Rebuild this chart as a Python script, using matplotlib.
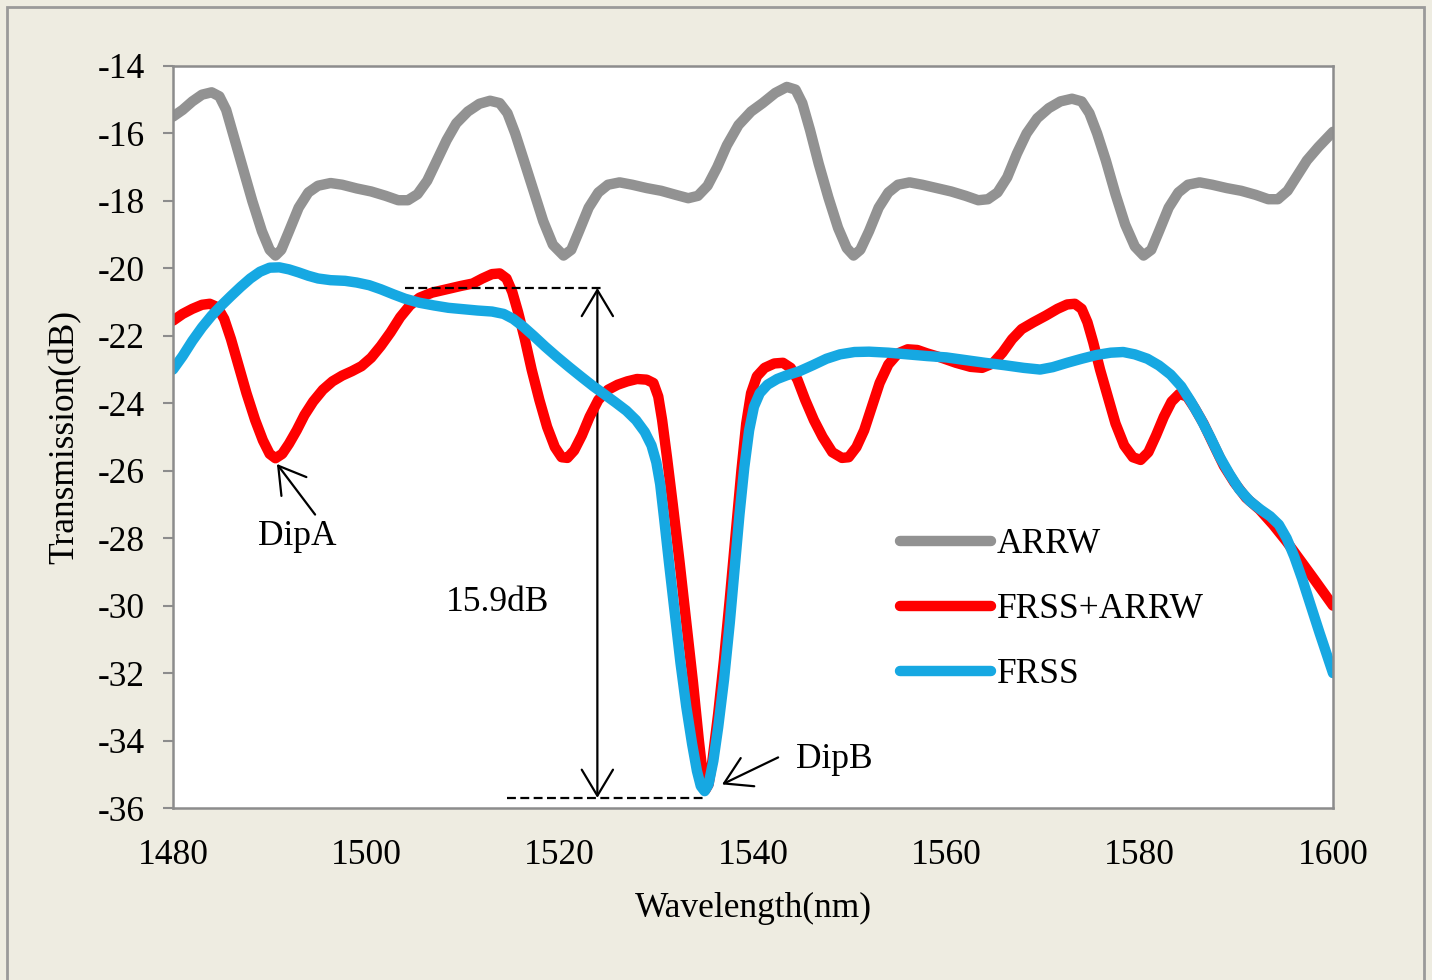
import matplotlib
matplotlib.use("Agg")
import matplotlib.pyplot as plt
from matplotlib.patches import Rectangle, FancyArrowPatch
import numpy as np

# wavelength (nm) / transmission (dB)
arrw_wl = [1480, 1481, 1482, 1483, 1484, 1484.8, 1485.5, 1486.3, 1487.2, 1488.2,
           1489.2, 1490, 1490.6, 1491.2, 1492, 1493, 1494, 1495, 1496.3, 1497.5,
           1499, 1500.5, 1502, 1503.3, 1504.3, 1505.3, 1506.3, 1507.3, 1508.3, 1509.3,
           1510.5, 1511.7, 1512.8, 1513.8, 1514.6, 1515.4, 1516.3, 1517.3, 1518.3, 1519.3,
           1520.4, 1521.2, 1522, 1523, 1524, 1525, 1526.2, 1527.5, 1529, 1530.5,
           1532, 1533.3, 1534.3, 1535.3, 1536.3, 1537.3, 1538.5, 1539.8, 1541, 1542.3,
           1543.5, 1544.4, 1545.1, 1545.9, 1546.8, 1547.8, 1548.8, 1549.7, 1550.4, 1551.1,
           1552, 1553, 1554, 1555, 1556.2, 1557.5, 1559, 1560.5, 1562, 1563.3,
           1564.3, 1565.3, 1566.3, 1567.3, 1568.3, 1569.4, 1570.6, 1571.8, 1573, 1574,
           1574.8, 1575.6, 1576.5, 1577.5, 1578.5, 1579.5, 1580.4, 1581.2, 1582, 1583,
           1584, 1585, 1586.2, 1587.5, 1589, 1590.5, 1592, 1593.3, 1594.3, 1595.3,
           1596.3, 1597.3, 1598.5, 1600]
arrw_db = [-15.5, -15.3, -15.05, -14.85, -14.78, -14.9, -15.3, -16.1, -17.0, -18.0,
           -18.9, -19.45, -19.62, -19.45, -18.9, -18.2, -17.75, -17.55, -17.47, -17.52,
           -17.63, -17.72, -17.85, -17.98, -17.98, -17.8, -17.4, -16.8, -16.2, -15.7,
           -15.35, -15.12, -15.03, -15.1, -15.4, -16.0, -16.8, -17.7, -18.6, -19.3,
           -19.62, -19.45, -18.9, -18.2, -17.75, -17.52, -17.45, -17.52, -17.62, -17.7,
           -17.82, -17.92, -17.85, -17.55, -17.0, -16.35, -15.75, -15.35, -15.1, -14.8,
           -14.62, -14.7, -15.1, -15.9, -16.9, -17.9, -18.8, -19.4, -19.62, -19.45,
           -18.9, -18.2, -17.75, -17.52, -17.45, -17.52, -17.62, -17.72, -17.85, -17.98,
           -17.95, -17.75, -17.3, -16.6, -16.0, -15.55, -15.25, -15.05, -14.97, -15.05,
           -15.4, -16.0, -16.8, -17.8, -18.7, -19.35, -19.62, -19.45, -18.9, -18.2,
           -17.75, -17.52, -17.45, -17.52, -17.62, -17.7, -17.82, -17.95, -17.95, -17.7,
           -17.25, -16.8, -16.4, -15.95]

mix_wl = [1480, 1481, 1482, 1483, 1483.8, 1484.6, 1485.3, 1486, 1486.8, 1487.6,
          1488.5, 1489.3, 1490, 1490.6, 1491.3, 1492, 1492.8, 1493.6, 1494.5, 1495.5,
          1496.5, 1497.5, 1498.5, 1499.5, 1500.5, 1501.5, 1502.5, 1503.5, 1504.5, 1505.5,
          1506.8, 1508.3, 1509.8, 1511, 1512, 1513, 1513.8, 1514.5, 1515.1, 1515.7,
          1516.4, 1517.1, 1517.9, 1518.7, 1519.5, 1520.2, 1520.8, 1521.5, 1522.3, 1523.1,
          1524, 1525, 1526, 1527, 1528, 1529, 1529.7, 1530.2, 1530.6, 1531.1,
          1531.7, 1532.4, 1533.1, 1533.8, 1534.4, 1534.8, 1535.1, 1535.4, 1535.8, 1536.4,
          1537, 1537.6, 1538.2, 1538.8, 1539.3, 1539.8, 1540.4, 1541.2, 1542.2, 1543.1,
          1543.9, 1544.6, 1545.4, 1546.3, 1547.2, 1548.2, 1549.2, 1549.9, 1550.7, 1551.5,
          1552.3, 1553.1, 1554, 1555, 1556, 1557, 1558, 1559.5, 1561, 1562.5,
          1563.7, 1564.8, 1565.8, 1566.8, 1567.8, 1569, 1570.3, 1571.5, 1572.5, 1573.3,
          1574, 1574.6, 1575.2, 1575.9, 1576.7, 1577.5, 1578.4, 1579.3, 1580.1, 1580.9,
          1581.7, 1582.5, 1583.3, 1584.1, 1584.9, 1585.7, 1586.6, 1587.6, 1588.7, 1589.8,
          1591, 1592.4, 1593.8, 1595.2, 1596.6, 1598, 1599, 1600]
mix_db = [-21.55, -21.35, -21.2, -21.08, -21.05, -21.15, -21.5, -22.1, -22.9, -23.7,
          -24.5, -25.1, -25.5, -25.63, -25.5, -25.2, -24.8, -24.35, -23.95, -23.6,
          -23.35, -23.18, -23.05, -22.9, -22.65, -22.3, -21.9, -21.45, -21.1, -20.87,
          -20.72, -20.62, -20.52, -20.45, -20.3, -20.17, -20.15, -20.3, -20.7, -21.3,
          -22.1, -23.0, -23.9, -24.7, -25.3, -25.6, -25.62, -25.4, -24.95, -24.4,
          -23.9, -23.6, -23.45, -23.35, -23.28, -23.3, -23.4, -23.8, -24.5, -25.6,
          -27.0, -28.7, -30.5, -32.3, -34.0, -35.0, -35.45, -35.3, -34.6, -33.2,
          -31.6, -29.8, -27.9, -26.0, -24.6, -23.7, -23.2, -22.95, -22.82, -22.8,
          -22.95, -23.3, -23.9, -24.5, -25.0, -25.45, -25.62, -25.6, -25.3, -24.8,
          -24.1, -23.4, -22.85, -22.52, -22.4, -22.42, -22.52, -22.65, -22.8, -22.92,
          -22.95, -22.82, -22.5, -22.1, -21.8, -21.6, -21.4, -21.2, -21.07, -21.05,
          -21.2, -21.6, -22.2, -23.0, -23.8, -24.6, -25.25, -25.6, -25.68, -25.45,
          -24.95, -24.4, -23.95, -23.72, -23.8, -24.15, -24.6, -25.2, -25.85, -26.35,
          -26.8, -27.15, -27.6, -28.1, -28.65, -29.2, -29.6, -30.0]

frss_wl = [1480, 1481, 1482, 1483, 1484, 1485, 1486, 1487, 1488, 1489,
           1490, 1491, 1492, 1493, 1494, 1495, 1496.3, 1497.8, 1499, 1500.3,
           1501.5, 1502.8, 1504, 1505.5, 1507, 1508.5, 1510, 1511.5, 1513, 1514.2,
           1515.2, 1516.2, 1517.3, 1518.5, 1519.7, 1521, 1522.3, 1523.5, 1524.7, 1525.8,
           1526.9, 1527.9, 1528.8, 1529.5, 1530, 1530.4, 1530.8, 1531.3, 1531.9, 1532.5,
           1533.1, 1533.7, 1534.2, 1534.6, 1535, 1535.4, 1535.9, 1536.4, 1537, 1537.6,
           1538.1, 1538.6, 1539.1, 1539.6, 1540.1, 1540.7, 1541.5, 1542.5, 1543.5, 1544.8,
           1546.2, 1547.6, 1549, 1550.5, 1552, 1554, 1556, 1558, 1560, 1562,
           1564, 1566, 1568, 1569.7, 1571, 1572.5, 1574, 1575.5, 1577, 1578.3,
           1579.5, 1580.8, 1582, 1583.2, 1584.3, 1585.3, 1586.3, 1587.3, 1588.3, 1589.3,
           1590.3, 1591.4, 1592.5, 1593.5, 1594.4, 1595.2, 1596, 1596.8, 1597.7, 1598.6,
           1599.3, 1600]
frss_db = [-23.0, -22.6, -22.15, -21.75, -21.4, -21.1, -20.82, -20.55, -20.3, -20.1,
           -19.98, -19.97, -20.03, -20.12, -20.22, -20.3, -20.35, -20.37, -20.42, -20.5,
           -20.62, -20.77, -20.9, -21.02, -21.1, -21.17, -21.21, -21.25, -21.28, -21.35,
           -21.5, -21.72, -22.0, -22.32, -22.62, -22.93, -23.23, -23.5, -23.75, -23.98,
           -24.22, -24.5, -24.85, -25.25, -25.75, -26.4, -27.4, -28.7, -30.2, -31.7,
           -33.0, -34.1, -34.9, -35.35, -35.5, -35.3, -34.6, -33.6, -32.2, -30.5,
           -28.9, -27.3, -25.9, -24.8, -24.1, -23.7, -23.45, -23.28, -23.17, -23.05,
           -22.87, -22.68, -22.55, -22.48, -22.47, -22.5, -22.55, -22.6, -22.64, -22.72,
           -22.8, -22.87, -22.95, -23.0, -22.93, -22.8, -22.68, -22.57, -22.5, -22.48,
           -22.55, -22.68, -22.88, -23.15, -23.5, -23.95, -24.45, -25.0, -25.6, -26.1,
           -26.55, -26.9, -27.15, -27.35, -27.6, -28.0, -28.55, -29.2, -30.0, -30.8,
           -31.4, -32.0]

series_names = ["ARRW", "FRSS+ARRW", "FRSS"]
series_colors = ["#929292", "#FF0000", "#16A8E2"]

# 15.9 dB extinction marker levels
top_level = -20.58
bottom_level = -35.7

plt.rcParams["font.family"] = ["Liberation Serif", "DejaVu Serif"]
plt.rcParams["axes.unicode_minus"] = False
FS = 25.5

fig = plt.figure(figsize=(14.32, 9.8), dpi=100, facecolor="#EEECE1")
# outer frame of the chart area
fig.patches.append(Rectangle((7 / 1432, -0.01), 1417 / 1432, 1 - 7 / 980 + 0.01,
                             transform=fig.transFigure, fill=False,
                             edgecolor="#9A9A9A", lw=2.0))
ax = fig.add_axes([173 / 1432, 1 - 808 / 980, 1160 / 1432, 742 / 980])
ax.set_facecolor("white")

for wl, db, name, col in zip([arrw_wl, mix_wl, frss_wl], [arrw_db, mix_db, frss_db],
                             series_names, series_colors):
    ax.plot(wl, db, color=col, lw=7.5, label=name,
            solid_capstyle="round", solid_joinstyle="round")

ax.set_xlim(1480, 1600)
ax.set_ylim(-36, -14)
ax.set_xticks(np.arange(1480, 1601, 20))
ax.set_yticks(np.arange(-36, -13, 2))
ax.tick_params(axis="x", length=0, pad=22, labelsize=FS)
ax.tick_params(axis="y", length=7, width=1.5, color="#8C8C8C", pad=13, labelsize=FS)
for s in ax.spines.values():
    s.set_color("#8C8C8C")
    s.set_linewidth(1.8)

ax.set_xlabel("Wavelength(nm)", fontsize=FS, labelpad=15)
ax.set_ylabel("Transmission(dB)", fontsize=FS, labelpad=12)

# 15.9 dB marker
ax.plot([1504.0, 1524.7], [top_level, top_level], color="black", lw=1.6,
        linestyle=(0, (4, 2)))
ax.plot([1514.6, 1535.0], [bottom_level, bottom_level], color="black", lw=1.6,
        linestyle=(0, (4, 2)))
head = "head_length=0.75,head_width=0.45"
ax.add_patch(FancyArrowPatch((1523.9, top_level), (1523.9, bottom_level),
                             arrowstyle="<->," + head, mutation_scale=25,
                             color="black", lw=1.6, shrinkA=0, shrinkB=0))
ax.text(1513.6, -29.9, "15.9dB", fontsize=FS, ha="center", va="center")

# dip labels
arrow_props = dict(arrowstyle="->," + head, mutation_scale=25, color="black",
                   lw=1.6, shrinkA=0, shrinkB=0)
ax.annotate("", xy=(1490.75, -25.8), xytext=(1494.7, -27.3), arrowprops=arrow_props)
ax.text(1492.9, -27.95, "DipA", fontsize=FS, ha="center", va="center")
ax.annotate("", xy=(1536.8, -35.3), xytext=(1542.6, -34.5), arrowprops=arrow_props)
ax.text(1544.5, -34.55, "DipB", fontsize=FS, ha="left", va="center")

leg = ax.legend(loc="upper left", bbox_to_anchor=(0.627, 0.377), frameon=False,
                fontsize=FS, handlelength=2.55, handletextpad=0.18,
                labelspacing=0.9, borderpad=0, borderaxespad=0)

fig.savefig("out.png", dpi=100, facecolor=fig.get_facecolor())
